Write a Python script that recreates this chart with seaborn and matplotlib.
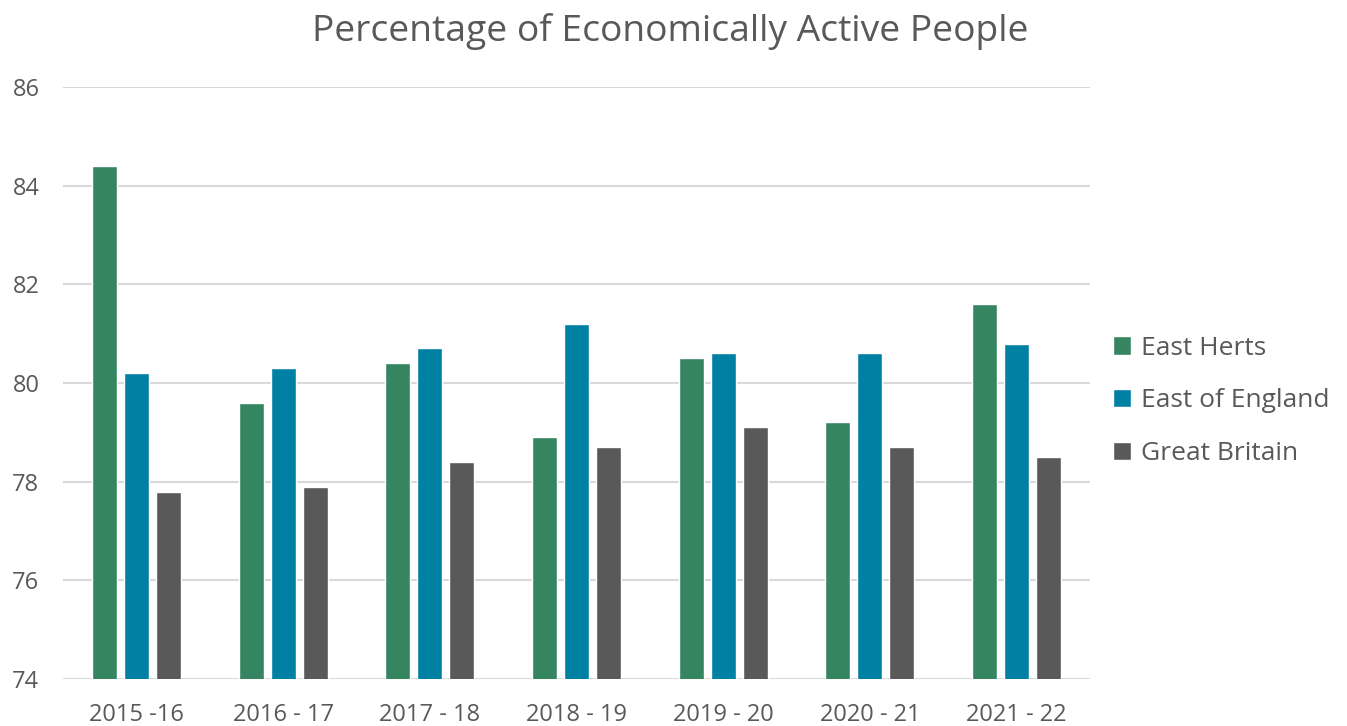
import pandas as pd
import matplotlib.pyplot as plt
import seaborn as sns

sns.set_style('white')
plt.rcParams['font.family'] = ['Open Sans', 'DejaVu Sans']

years = ['2015 -16', '2016 - 17', '2017 - 18', '2018 - 19', '2019 - 20', '2020 - 21', '2021 - 22']
east_herts = [84.4, 79.6, 80.4, 78.9, 80.5, 79.2, 81.6]
east_of_england = [80.2, 80.3, 80.7, 81.2, 80.6, 80.6, 80.8]
great_britain = [77.8, 77.9, 78.4, 78.7, 79.1, 78.7, 78.5]

series = ['East Herts', 'East of England', 'Great Britain']
colors = ['#358560', '#0080A3', '#595959']

df = pd.DataFrame({'year': years * 3,
                   'area': sum([[s] * len(years) for s in series], []),
                   'value': east_herts + east_of_england + great_britain})

fig = plt.figure(figsize=(13.47, 7.26), dpi=100)
ax = fig.add_axes([63 / 1347, 47 / 726, 1027 / 1347, 592 / 726])

sns.barplot(data=df, x='year', y='value', hue='area', palette=colors,
            saturation=1, width=0.654, gap=0.22, ax=ax, zorder=3)

ax.set_ylim(74, 86)
ax.set_xlim(-0.5, 6.5)
ax.set_yticks(range(74, 87, 2))
ax.yaxis.grid(True, color='#d9d9d9', linewidth=1.5, zorder=0)
ax.set_axisbelow(True)
for s in ax.spines.values():
    s.set_visible(False)
ax.set(xlabel='', ylabel='')
ax.tick_params(axis='both', length=0, labelsize=17, labelcolor='#595959')
ax.tick_params(axis='y', pad=17)
ax.tick_params(axis='x', pad=17)

fig.suptitle('Percentage of Economically Active People', fontsize=26.8,
             color='#595959', x=0.4975, y=0.982, va='top')

ax.legend(loc='center left', bbox_to_anchor=(1.0224, 0.4696), frameon=False,
          fontsize=19, labelcolor='#595959', handlelength=0.7, handleheight=0.7,
          handletextpad=0.35, labelspacing=1.05, borderpad=0, borderaxespad=0)

fig.savefig('out.png', dpi=100)
